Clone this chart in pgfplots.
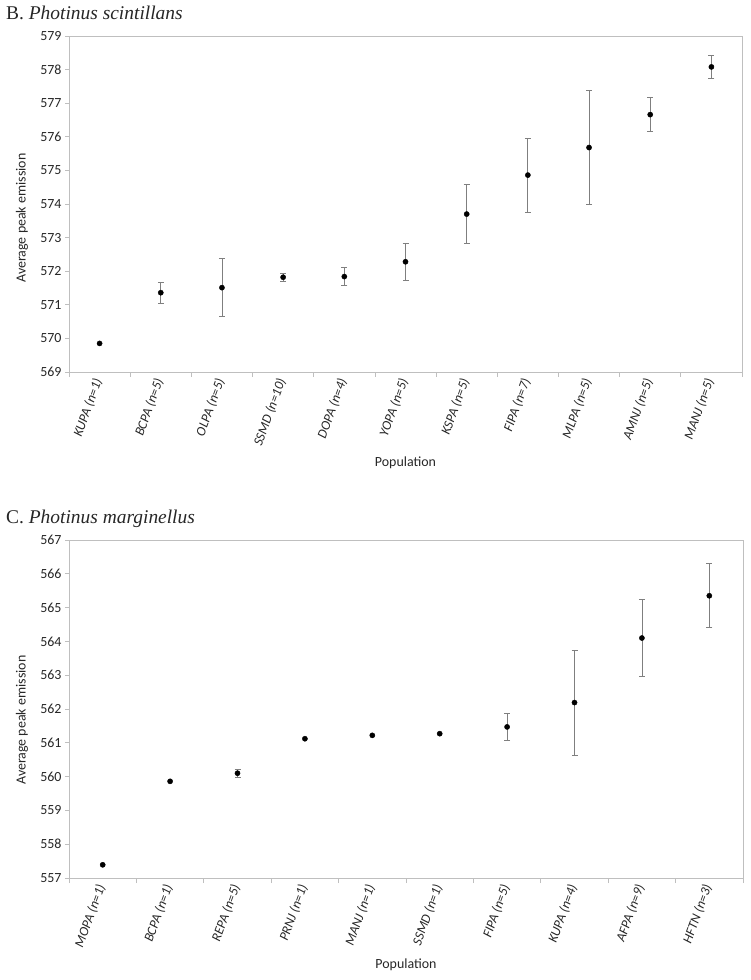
\documentclass[border=0pt]{standalone}
\usepackage{fontspec}
\setmainfont{Carlito}
\newfontfamily\titlefont{Liberation Serif}
\usepackage{pgfplots}
\usepackage{pgfplotstable}
\pgfplotsset{compat=1.18}

\definecolor{axgray}{HTML}{BFBFBF}
\definecolor{errgray}{HTML}{7F7F7F}
\definecolor{txt}{HTML}{262626}

% x = category index, y = average peak, e = error (0 = no bar)
\pgfplotstableread{
x y e
0 569.85 0
1 571.36 0.32
2 571.51 0.86
3 571.82 0.11
4 571.84 0.27
5 572.28 0.54
6 573.70 0.87
7 574.86 1.10
8 575.68 1.70
9 576.66 0.50
10 578.08 0.33
}\scintillans

\pgfplotstableread{
x y e
0 557.39 0
1 559.86 0
2 560.10 0.11
3 561.12 0
4 561.22 0
5 561.27 0
6 561.47 0.40
7 562.19 1.55
8 564.10 1.13
9 565.35 0.95
}\marginellus

\pgfplotsset{
  peak/.style={
    scale only axis,
    axis line style={axgray},
    tick style={axgray, line width=0.8pt},
    tick align=outside,
    tick pos=left,
    major tick length=4bp,
    minor tick length=5bp,
    major x tick style={draw=none},
    ytick distance=1,
    /pgf/number format/assume math mode=true,
    /pgf/number format/fixed,
    /pgf/number format/1000 sep={},
    yticklabel style={font=\fontsize{14}{15}\selectfont, text=txt},
    xticklabel style={font=\fontsize{13.5}{14}\selectfont\itshape, text=txt,
      rotate=70, anchor=east},
    label style={font=\fontsize{14}{16}\selectfont, text=txt},
  },
  dot/.style={only marks, mark=*, mark size=2.6bp, black, mark options={fill=black}},
  bars/.style={
    error bars/.cd, y dir=both, y explicit,
    error bar style={errgray, line width=0.8pt},
    error mark options={errgray, rotate=90, mark size=3bp, line width=0.8pt},
  },
  witherr/.style={x filter/.expression={\thisrow{e}>0 ? x : nan}},
  noerr/.style={x filter/.expression={\thisrow{e}>0 ? nan : x}},
}

\begin{document}
\begin{tikzpicture}
\useasboundingbox (0,0) rectangle (751bp,980bp);

\node[anchor=base west, inner sep=0pt, text=txt, font=\fontsize{19.5}{21}\selectfont\titlefont]
  at (6bp,960.5bp) {B. \textit{Photinus scintillans}};

\begin{axis}[peak,
  at={(69bp,608bp)}, anchor=south west,
  width=673bp, height=336bp,
  xmin=-0.5, xmax=10.5, ymin=569, ymax=579,
  xtick={0,...,10},
  minor xtick={-0.5,0.5,...,10.5},
  xticklabels={KUPA (n=1), BCPA (n=5), OLPA (n=5), SSMD (n=10), DOPA (n=4),
    YOPA (n=5), KSPA (n=5), FIPA (n=7), MLPA (n=5), AMNJ (n=5), MANJ (n=5)},
  xlabel={Population}, ylabel={Average peak emission},
  xlabel style={at={(axis description cs:0.5,-0.280)}, anchor=base},
  ylabel style={at={(axis description cs:-0.0698,0.458)}, anchor=center},
]
\addplot[dot, witherr, bars] table[x=x, y=y, y error=e] {\scintillans};
\addplot[dot, noerr] table[x=x, y=y] {\scintillans};
\end{axis}

\node[anchor=base west, inner sep=0pt, text=txt, font=\fontsize{19.5}{21}\selectfont\titlefont]
  at (6bp,456.7bp) {C. \textit{Photinus marginellus}};

\begin{axis}[peak,
  at={(69bp,102bp)}, anchor=south west,
  width=674bp, height=338bp,
  xmin=-0.5, xmax=9.5, ymin=557, ymax=567,
  xtick={0,...,9},
  minor xtick={-0.5,0.5,...,9.5},
  xticklabels={MOPA (n=1), BCPA (n=1), REPA (n=5), PRNJ (n=1), MANJ (n=1),
    SSMD (n=1), FIPA (n=5), KUPA (n=4), AFPA (n=9), HFTN (n=3)},
  xlabel={Population}, ylabel={Average peak emission},
  xlabel style={at={(axis description cs:0.5,-0.269)}, anchor=base},
  ylabel style={at={(axis description cs:-0.0697,0.467)}, anchor=center},
]
\addplot[dot, witherr, bars] table[x=x, y=y, y error=e] {\marginellus};
\addplot[dot, noerr] table[x=x, y=y] {\marginellus};
\end{axis}
\end{tikzpicture}
\end{document}
